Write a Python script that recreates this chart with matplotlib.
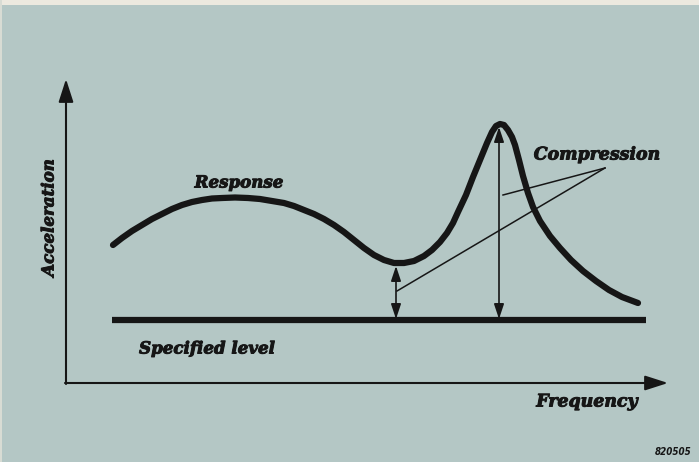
import matplotlib.pyplot as plt
import matplotlib.patheffects as pe
from matplotlib.patches import Rectangle

# response curve (pixel coords, y down)
curve_x = [113, 122, 132, 142, 152, 162, 172, 182, 192, 202, 212, 222, 235, 248,
           260, 272, 284, 294, 304, 314, 324, 334, 344, 354, 364, 374, 384, 394,
           404, 414, 424, 432, 440, 447, 453, 458, 466, 473, 480, 487, 492, 496,
           500, 504, 508, 512, 515, 519, 523, 528, 533, 540, 550, 560, 571, 583,
           596, 609, 622, 638]
curve_y = [245, 238, 231, 225, 219, 214, 209, 205, 202, 200, 198.5, 198, 197.5, 198,
           199, 201, 203, 206, 210, 214, 219, 225, 232, 240, 248, 255, 260, 263,
           263, 261, 256, 250, 242, 233, 223, 212, 195, 177, 160, 143, 132, 126,
           124, 125, 130, 137, 145, 160, 176, 193, 207, 221, 236, 248, 260, 271,
           281, 290, 297, 303]

level_y = 320
level_x = [112, 646]

# compression arrows: x, top, bottom
arrow_x = [396, 499]
arrow_top = [266, 127]
arrow_bot = [319, 319]

# leader lines from the "Compression" label
leader_from = (605, 168)
leader_to = [(503, 195), (397, 291)]

bg = "#b4c7c5"
ink = "#161616"
thick = [pe.withStroke(linewidth=0.7, foreground=ink)]
font = dict(family="DejaVu Serif", weight="bold", style="italic", color=ink,
            path_effects=thick)

fig = plt.figure(figsize=(6.99, 4.62), dpi=100)
fig.patch.set_facecolor(bg)
ax = fig.add_axes([0, 0, 1, 1])
ax.set_xlim(0, 699)
ax.set_ylim(462, 0)
ax.axis("off")
ax.add_patch(Rectangle((0, 0), 699, 5, color="#ece9df", lw=0))
ax.add_patch(Rectangle((0, 0), 2, 462, color="#d8dcd4", lw=0))

# axes with arrow heads
ax.annotate("", xy=(66, 79), xytext=(66, 384),
            arrowprops=dict(arrowstyle="-|>,head_length=1.4,head_width=0.45",
                            color=ink, lw=1.5, shrinkA=0, shrinkB=0))
ax.annotate("", xy=(668, 383), xytext=(65, 383),
            arrowprops=dict(arrowstyle="-|>,head_length=1.4,head_width=0.45",
                            color=ink, lw=1.5, shrinkA=0, shrinkB=0))

ax.plot(level_x, [level_y, level_y], color=ink, lw=4.5, solid_capstyle="butt")
ax.plot(curve_x, curve_y, color=ink, lw=4.5, solid_capstyle="round",
        solid_joinstyle="round")

for x, t, b in zip(arrow_x, arrow_top, arrow_bot):
    ax.annotate("", xy=(x, t), xytext=(x, b),
                arrowprops=dict(arrowstyle="<|-|>,head_length=0.9,head_width=0.3",
                                color=ink, lw=1.2, shrinkA=0, shrinkB=0))

for p in leader_to:
    ax.plot([leader_from[0], p[0]], [leader_from[1], p[1]], color=ink, lw=1.1)

ax.text(239, 183, "Response", ha="center", va="center", fontsize=12, **font)
ax.text(597, 155, "Compression", ha="center", va="center", fontsize=12.5, **font)
ax.text(207, 349, "Specified level", ha="center", va="center", fontsize=12, **font)
ax.text(587, 402, "Frequency", ha="center", va="center", fontsize=12.5, **font)
ax.text(49, 218, "Acceleration", ha="center", va="center", rotation=90,
        fontsize=12, **font)
ax.text(673, 452, "820505", ha="center", va="center", fontsize=7,
        family="DejaVu Sans", weight="bold", style="italic", color=ink,
        stretch="condensed")

fig.savefig("out.png", dpi=100, facecolor=bg)
